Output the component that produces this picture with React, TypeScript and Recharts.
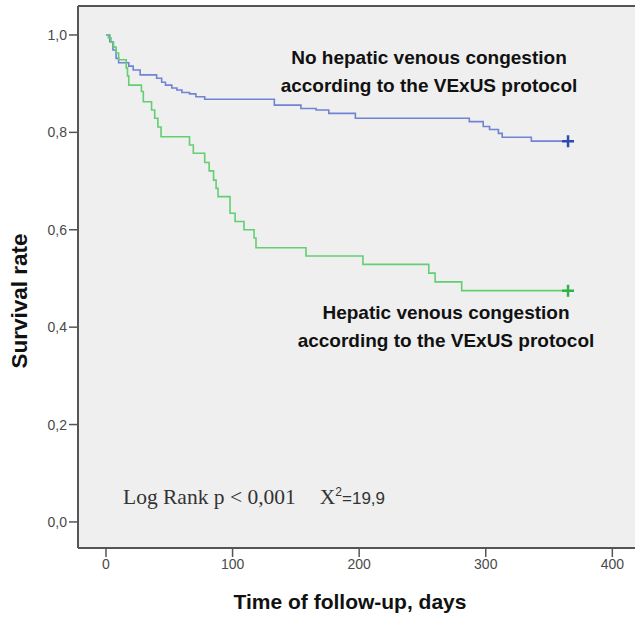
import { ComposedChart, Line, XAxis, YAxis, CartesianGrid, ReferenceLine } from "recharts"

// Kaplan-Meier steps (days, survival)
const noCongestionDays = [0, 3, 5.5, 8, 10, 18, 21.5, 27, 40, 44, 47, 52, 56, 60, 66, 71, 78, 133, 154, 166, 176, 197, 287, 298, 303, 310, 313, 336]
const noCongestionSurvival = [1.0, 0.986, 0.969, 0.952, 0.943, 0.936, 0.928, 0.918, 0.911, 0.903, 0.897, 0.891, 0.887, 0.882, 0.879, 0.873, 0.868, 0.856, 0.849, 0.846, 0.839, 0.829, 0.822, 0.812, 0.806, 0.798, 0.79, 0.782]

const congestionDays = [0, 2, 4, 6, 8, 10, 16, 17, 18, 28, 29.5, 36, 38.5, 41, 43.5, 66, 69, 78, 81.5, 85, 87, 88.5, 98, 102, 109, 117, 118.5, 158, 203, 255, 260, 281]
const congestionSurvival = [1.0, 0.994, 0.985, 0.975, 0.963, 0.949, 0.932, 0.916, 0.897, 0.884, 0.863, 0.846, 0.829, 0.811, 0.791, 0.774, 0.757, 0.738, 0.721, 0.702, 0.685, 0.668, 0.634, 0.617, 0.6, 0.583, 0.563, 0.546, 0.529, 0.511, 0.493, 0.475]

const lastFollowUp = 365
const xTicks = [0, 100, 200, 300, 400]
const yTicks = [0, 0.2, 0.4, 0.6, 0.8, 1.0]

const toSteps = (days: number[], surv: number[]) => [
    ...days.map((t, i) => ({ t, s: surv[i] })),
    { t: lastFollowUp, s: surv[surv.length - 1], censored: true },
]

const blueData = toSteps(noCongestionDays, noCongestionSurvival)
const greenData = toSteps(congestionDays, congestionSurvival)

const censorMark = (color: string) => (props: any) => {
    const { cx, cy, index, payload } = props
    if (!payload || !payload.censored) return <g key={`e-${index}`} />
    return (
        <path
            key={`c-${index}`}
            d={`M${cx - 6},${cy}h12M${cx},${cy - 6}v12`}
            stroke={color}
            strokeWidth={2.5}
            fill="none"
        />
    )
}

const annotation = {
    position: "absolute" as const,
    fontFamily: "'Liberation Sans', Arial, sans-serif",
    fontWeight: "bold" as const,
    fontSize: 19,
    lineHeight: "28px",
    color: "#111",
    textAlign: "center" as const,
    whiteSpace: "nowrap" as const,
    transform: "translateX(-50%)",
}

export default function App() {
    return (
        <div style={{ position: "absolute", left: 0, top: 0, width: 635, height: 621, background: "#fff" }}>
            <ComposedChart width={635} height={621} margin={{ top: 6, right: 0, bottom: 0, left: 0 }}>
                <CartesianGrid horizontal={false} vertical={false} fill="#efefef" />
                <XAxis
                    type="number"
                    dataKey="t"
                    domain={[-22.1, 417.9]}
                    ticks={xTicks}
                    allowDataOverflow
                    height={73}
                    tickSize={9}
                    tickMargin={2}
                    axisLine={{ stroke: "#555", strokeWidth: 2 }}
                    tickLine={{ stroke: "#555", strokeWidth: 1.5 }}
                    tick={{ fill: "#4a4a4a", fontSize: 14, fontFamily: "'Liberation Sans', Arial" }}
                />
                <YAxis
                    type="number"
                    domain={[-0.0535, 1.0595]}
                    ticks={yTicks}
                    allowDataOverflow
                    width={78}
                    tickSize={9}
                    tickMargin={2}
                    tickFormatter={(v: number) => v.toFixed(1).replace(".", ",")}
                    axisLine={{ stroke: "#555", strokeWidth: 2 }}
                    tickLine={{ stroke: "#555", strokeWidth: 1.5 }}
                    tick={{ fill: "#4a4a4a", fontSize: 14, fontFamily: "'Liberation Sans', Arial" }}
                />
                <ReferenceLine y={1.0595} stroke="#555" strokeWidth={2} />
                <Line
                    data={blueData}
                    dataKey="s"
                    type="stepAfter"
                    stroke="#7183d4"
                    strokeWidth={1.6}
                    dot={censorMark("#3149b3")}
                    activeDot={false}
                    isAnimationActive={false}
                />
                <Line
                    data={greenData}
                    dataKey="s"
                    type="stepAfter"
                    stroke="#63cf72"
                    strokeWidth={1.6}
                    dot={censorMark("#2fb347")}
                    activeDot={false}
                    isAnimationActive={false}
                />
            </ComposedChart>

            <div style={{ ...annotation, left: 429, top: 44 }}>
                No hepatic venous congestion
                <br />
                according to the VExUS protocol
            </div>
            <div style={{ ...annotation, left: 446, top: 299 }}>
                Hepatic venous congestion
                <br />
                according to the VExUS protocol
            </div>

            <div
                style={{
                    position: "absolute",
                    left: 123,
                    top: 485,
                    fontSize: 21.5,
                    fontFamily: "'Liberation Serif', 'Times New Roman', serif",
                    color: "#333",
                    whiteSpace: "nowrap",
                }}
            >
                Log Rank p &lt; 0,001
                <span style={{ marginLeft: 24 }}>X</span>
                <sup style={{ fontSize: 12, fontFamily: "'Liberation Sans', Arial" }}>2</sup>
                <span style={{ fontFamily: "'Liberation Sans', Arial", fontSize: 17 }}>=19,9</span>
            </div>

            <div
                style={{
                    position: "absolute",
                    left: 20,
                    top: 301,
                    transform: "translate(-50%, -50%) rotate(-90deg)",
                    fontFamily: "'Liberation Sans', Arial, sans-serif",
                    fontWeight: "bold",
                    fontSize: 22.5,
                    color: "#111",
                    whiteSpace: "nowrap",
                }}
            >
                Survival rate
            </div>
            <div
                style={{
                    position: "absolute",
                    left: 350,
                    top: 602,
                    transform: "translate(-50%, -50%)",
                    fontFamily: "'Liberation Sans', Arial, sans-serif",
                    fontWeight: "bold",
                    fontSize: 21,
                    color: "#111",
                    whiteSpace: "nowrap",
                }}
            >
                Time of follow-up, days
            </div>
        </div>
    )
}
